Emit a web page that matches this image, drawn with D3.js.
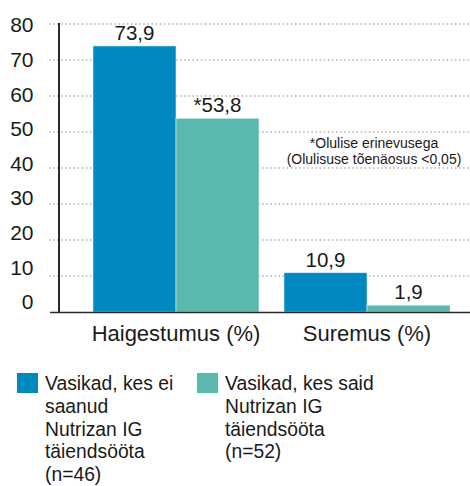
<!DOCTYPE html>
<html><head><meta charset="utf-8">
<script src="https://cdn.jsdelivr.net/npm/d3@7"></script>
<style>body{margin:0;background:#fff}svg{display:block;font-family:"Liberation Sans",Arial,sans-serif}</style>
</head><body><svg id="c" width="470" height="486"></svg>
<script>
const categories = ["Haigestumus (%)", "Suremus (%)"];
const seriesNames = ["Vasikad, kes ei saanud Nutrizan IG täiendsööta (n=46)", "Vasikad, kes said Nutrizan IG täiendsööta (n=52)"];
const seriesNoIG = [73.9, 10.9];
const seriesIG = [53.8, 1.9];
const valueLabelsNoIG = ["73,9", "10,9"];
const valueLabelsIG = ["*53,8", "1,9"];
const yTicks = [0, 10, 20, 30, 40, 50, 60, 70, 80];
const legendLines = [["Vasikad, kes ei", "saanud", "Nutrizan IG", "täiendsööta", "(n=46)"], ["Vasikad, kes said", "Nutrizan IG", "täiendsööta", "(n=52)"]];
const noteLines = ["*Olulise erinevusega", "(Olulisuse tõenäosus <0,05)"];
const colors = ["#0088c1", "#5ab9ad"];

const svg = d3.select("#c");
const y = d3.scaleLinear().domain([0, 80]).range([312, 24]);
const yLab = d3.scaleLinear().domain([0, 80]).range([302, 25]);
const x0 = d3.scaleBand().domain(categories).range([93, 450]).paddingInner(0.131).paddingOuter(0);
const x1 = d3.scaleBand().domain([0, 1]).range([0, x0.bandwidth()]);

// gridlines
svg.append("g").selectAll("line").data(yTicks.filter(d => d > 0)).join("line")
  .attr("x1", 49).attr("x2", 470).attr("y1", d => y(d)).attr("y2", d => y(d))
  .attr("stroke", "#b0b0b0").attr("stroke-width", 1.3).attr("stroke-dasharray", "1.5,2.6");

// tick labels
svg.append("g").selectAll("text").data(yTicks).join("text")
  .attr("x", 33.5).attr("y", d => yLab(d)).attr("dy", "0.35em").attr("text-anchor", "end")
  .attr("font-size", 21).attr("fill", "#1a1a1a").text(d => d);

// bars
const data = categories.map((c, i) => ({c, v: [seriesNoIG[i], seriesIG[i]], l: [valueLabelsNoIG[i], valueLabelsIG[i]]}));
const g = svg.append("g").selectAll("g").data(data).join("g").attr("transform", d => `translate(${x0(d.c)},0)`);
g.selectAll("rect").data(d => d.v.map((v, k) => ({v, k}))).join("rect")
  .attr("x", d => x1(d.k)).attr("width", x1.bandwidth())
  .attr("y", d => y(d.v)).attr("height", d => y(0) - y(d.v))
  .attr("fill", d => colors[d.k]).attr("stroke", "#d8eef2").attr("stroke-width", 0.6);
g.selectAll("text").data(d => d.v.map((v, k) => ({v, k, l: d.l[k]}))).join("text")
  .attr("x", d => x1(d.k) + x1.bandwidth() / 2).attr("y", d => y(d.v) - 6)
  .attr("text-anchor", "middle").attr("font-size", 20.5).attr("fill", "#1a1a1a").text(d => d.l);

// axes lines
svg.append("line").attr("x1", 59).attr("x2", 59).attr("y1", 23).attr("y2", 313).attr("stroke", "#2a2a2a").attr("stroke-width", 2);
svg.append("line").attr("x1", 50).attr("x2", 470).attr("y1", 312.5).attr("y2", 312.5).attr("stroke", "#2a2a2a").attr("stroke-width", 1.5);

// category labels
svg.append("g").selectAll("text").data(categories).join("text")
  .attr("x", d => x0(d) + x0.bandwidth() / 2).attr("y", 341).attr("text-anchor", "middle")
  .attr("font-size", 22).attr("fill", "#1a1a1a").text(d => d);

// note
svg.append("g").selectAll("text").data(noteLines).join("text")
  .attr("x", 374).attr("y", (d, i) => 148 + i * 15.5).attr("text-anchor", "middle")
  .attr("font-size", 14).attr("fill", "#1a1a1a").text(d => d);

// legend
const legX = [17, 197];
const lg = svg.append("g").selectAll("g").data(seriesNames).join("g");
lg.append("rect").attr("x", (d, i) => legX[i]).attr("y", 373).attr("width", 21).attr("height", 20).attr("fill", (d, i) => colors[i]);
lg.each(function(d, i) {
  d3.select(this).selectAll("text").data(legendLines[i]).join("text")
    .attr("x", legX[i] + 28).attr("y", (t, j) => 390 + j * 22.8)
    .attr("font-size", 19.3).attr("fill", "#1a1a1a").text(t => t);
});
</script></body></html>
